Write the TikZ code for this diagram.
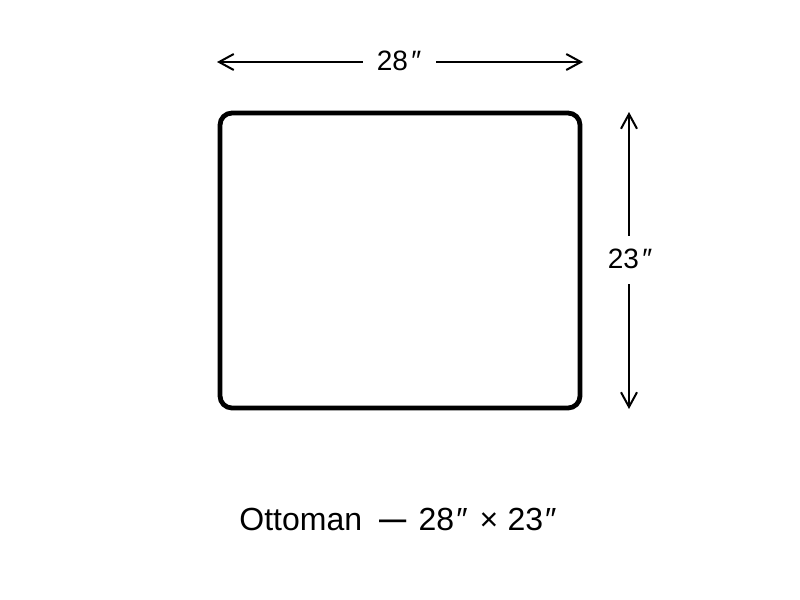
\documentclass[tikz,border=0pt]{standalone}
\usepackage{fontspec}
\setmainfont{Liberation Sans}
\usetikzlibrary{arrows.meta}
\begin{document}
\begin{tikzpicture}[x=0.75pt,y=-0.75pt,
  dimline/.style={line width=1.5pt,{Straight Barb[length=11pt,width=12pt]}-{Straight Barb[length=11pt,width=12pt]}},
  dimlabel/.style={font=\fontsize{21}{24}\selectfont,inner sep=0pt},
  box/.style={line width=3.6pt,rounded corners=9pt}]
\useasboundingbox (0,0) rectangle (800,600);
\draw[box] (220,113) rectangle (580,408);
\coordinate (tl) at (217,62);
\coordinate (tr) at (583,62);
\coordinate (rt) at (629,112);
\coordinate (rb) at (629,409);
\draw[dimline] (tl) -- (tr);
\draw[dimline] (rt) -- (rb);
\fill[white] (363,50) rectangle (436,74);
\node[dimlabel] (wl) at (399,61) {28\kern2.5pt″};
\fill[white] (612,236) rectangle (646,284);
\node[dimlabel] (hl) at (630,259) {23\kern2.5pt″};
\node[font=\fontsize{24}{28}\selectfont,inner sep=0pt] (cap) at (398,520)
  {Ottoman\hspace{13pt}\raisebox{-0.5pt}{\scalebox{0.85}[1.25]{—}}\hspace{9pt}28\kern1.5pt″\hspace{9pt}×\hspace{7pt}23\kern1.5pt″};
\end{tikzpicture}
\end{document}
